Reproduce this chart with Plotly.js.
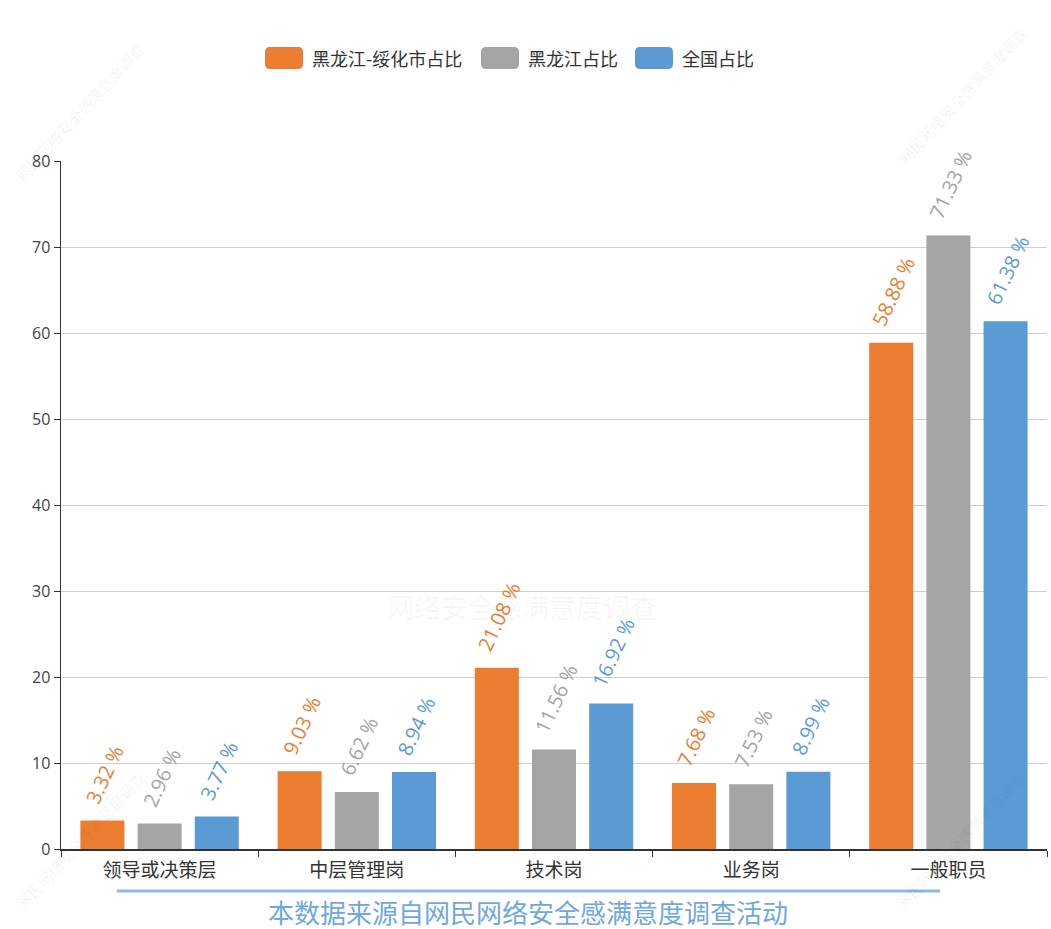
<!DOCTYPE html>
<html>
<head>
<meta charset="utf-8">
<script src="https://cdn.plot.ly/plotly-3.0.1.min.js"></script>
<style>html,body{margin:0;padding:0;background:#fff;}#chart{width:1051px;height:929px;}</style>
</head>
<body>
<div id="chart"></div>
<script>
const categories = ["领导或决策层", "中层管理岗", "技术岗", "业务岗", "一般职员"];
const seriesNames = ["黑龙江-绥化市占比", "黑龙江占比", "全国占比"];
const suihua = [3.32, 9.03, 21.08, 7.68, 58.88];
const heilongjiang = [2.96, 6.62, 11.56, 7.53, 71.33];
const national = [3.77, 8.94, 16.92, 8.99, 61.38];
const colors = ["#ed7d31", "#a5a5a5", "#5b9bd5"];
const yTicks = [0, 10, 20, 30, 40, 50, 60, 70, 80];

const FONT = "'Open Sans', 'Noto Sans CJK SC', sans-serif";
const CJK = "'Noto Sans CJK SC', 'Open Sans', sans-serif";
const values = [suihua, heilongjiang, national];

// plot area in pixels (layout only)
const W = 1051, H = 929, L = 61, R = 4, T = 161, B = 80;
const pw = W - L - R, ph = H - T - B;
const px = x => (x - L) / pw;
const py = y => (H - B - y) / ph;

const traces = values.map((vals, i) => ({
  type: "bar",
  name: seriesNames[i],
  x: categories,
  y: vals,
  marker: {color: colors[i]},
  text: vals.map(v => "\u00a0\u00a0" + v.toFixed(2) + " %"),
  textposition: "outside",
  textangle: -65,
  cliponaxis: false,
  constraintext: "none",
  textfont: {family: FONT, size: 20, color: colors[i]},
  showlegend: false,
  hoverinfo: "x+y+name"
}));

// custom legend with rounded swatches (layout positions only)
const legendX = [265, 481, 635];
const legendY = 58, sw = 38, sh = 22, rr = 5;
const shapes = [];
const annotations = [];
seriesNames.forEach((name, i) => {
  const x0 = legendX[i], x1 = x0 + sw, y0 = legendY - sh / 2, y1 = legendY + sh / 2;
  const d = `M ${px(x0 + rr)} ${py(y0)} L ${px(x1 - rr)} ${py(y0)} Q ${px(x1)} ${py(y0)} ${px(x1)} ${py(y0 + rr)} ` +
            `L ${px(x1)} ${py(y1 - rr)} Q ${px(x1)} ${py(y1)} ${px(x1 - rr)} ${py(y1)} ` +
            `L ${px(x0 + rr)} ${py(y1)} Q ${px(x0)} ${py(y1)} ${px(x0)} ${py(y1 - rr)} ` +
            `L ${px(x0)} ${py(y0 + rr)} Q ${px(x0)} ${py(y0)} ${px(x0 + rr)} ${py(y0)} Z`;
  shapes.push({type: "path", xref: "paper", yref: "paper", path: d,
               fillcolor: colors[i], line: {width: 0}});
  annotations.push({text: name, xref: "paper", yref: "paper", x: px(x1 + 7), y: py(legendY),
                    xanchor: "left", yanchor: "middle", showarrow: false,
                    font: {family: CJK, size: 18, color: "#333"}});
});

shapes.push({
  type: "line", xref: "paper", yref: "paper",
  x0: px(117), x1: px(940), y0: py(891), y1: py(891),
  line: {color: "#8cb8e6", width: 3}
});

const wm = "rgba(0,0,0,0.06)";
const wmText = "网民网络安全感满意度调查";
annotations.push(
  {text: "本数据来源自网民网络安全感满意度调查活动", xref: "paper", yref: "paper",
   x: px(528), y: py(911), showarrow: false, xanchor: "center", yanchor: "middle", borderpad: 0,
   font: {family: CJK, size: 26, color: "#6fa8e0"}},
  {text: "网络安全感满意度调查", xref: "paper", yref: "paper",
   x: px(522), y: py(606), showarrow: false, xanchor: "center", yanchor: "middle",
   font: {family: CJK, size: 27, color: "rgba(0,0,0,0.04)"}},
  {text: wmText, xref: "paper", yref: "paper", x: px(80), y: py(112), showarrow: false,
   textangle: -47, xanchor: "center", yanchor: "middle", font: {family: CJK, size: 15, color: wm}},
  {text: wmText, xref: "paper", yref: "paper", x: px(962), y: py(95), showarrow: false,
   textangle: -47, xanchor: "center", yanchor: "middle", font: {family: CJK, size: 15, color: wm}},
  {text: wmText, xref: "paper", yref: "paper", x: px(80), y: py(840), showarrow: false,
   textangle: -47, xanchor: "center", yanchor: "middle", font: {family: CJK, size: 15, color: wm}},
  {text: wmText, xref: "paper", yref: "paper", x: px(960), y: py(840), showarrow: false,
   textangle: -47, xanchor: "center", yanchor: "middle", font: {family: CJK, size: 15, color: wm}}
);

const layout = {
  width: W,
  height: H,
  margin: {l: L, r: R, t: T, b: B},
  paper_bgcolor: "#fff",
  plot_bgcolor: "#fff",
  font: {family: FONT, size: 15, color: "#333"},
  barmode: "group",
  bargap: 0.13,
  bargroupgap: 0.23,
  showlegend: false,
  xaxis: {
    type: "category",
    showline: true,
    linecolor: "#333",
    linewidth: 1.5,
    ticks: "outside",
    tickson: "boundaries",
    ticklen: 6,
    tickcolor: "#333",
    ticklabelstandoff: 4,
    tickfont: {family: CJK, size: 19, color: "#333"},
    showgrid: false,
    fixedrange: true
  },
  yaxis: {
    range: [0, 80],
    tickvals: yTicks,
    ticktext: yTicks.map(String),
    showline: true,
    linecolor: "#333",
    linewidth: 1.5,
    ticks: "outside",
    ticklen: 6,
    tickcolor: "#333",
    tickfont: {family: FONT, size: 16, color: "#444"},
    showgrid: true,
    gridcolor: "#cfcfcf",
    gridwidth: 1,
    zeroline: false,
    fixedrange: true
  },
  shapes: shapes,
  annotations: annotations
};

Plotly.newPlot("chart", traces, layout, {displayModeBar: false, staticPlot: true});
</script>
</body>
</html>
